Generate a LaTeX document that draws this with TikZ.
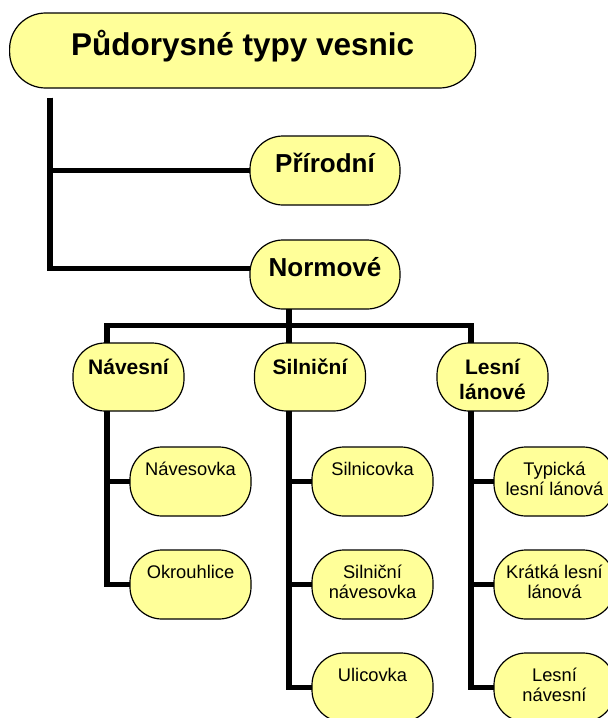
\documentclass[tikz,border=0pt]{standalone}
\usepackage{fontspec}
\setmainfont{Liberation Sans}
\usetikzlibrary{positioning}
\definecolor{boxyellow}{HTML}{FFFF99}

\begin{document}
\begin{tikzpicture}[x=1pt, y=-1pt,
    conn/.style={line width=5.5pt},
    box/.style={draw, line width=1.2pt, fill=boxyellow, inner sep=0pt, outer sep=0pt},
    titlebox/.style={box, rounded corners=36pt,
      font=\bfseries\fontsize{31.5}{36}\selectfont,
      execute at begin node={\begin{minipage}[c][75pt][t]{466pt}\centering\rule{0pt}{42pt}},
      execute at end node={\end{minipage}}},
    mainbox/.style={box, rounded corners=33pt,
      font=\bfseries\fontsize{26}{30}\selectfont,
      execute at begin node={\begin{minipage}[c][69pt][t]{150pt}\centering\rule{0pt}{36.7pt}},
      execute at end node={\end{minipage}}},
    groupbox/.style={box, rounded corners=32pt,
      font=\bfseries\fontsize{21}{25}\selectfont,
      execute at begin node={\begin{minipage}[c][68pt][t]{111pt}\centering\rule{0pt}{31pt}},
      execute at end node={\end{minipage}}},
    typebox/.style={box, rounded corners=32pt,
      font=\fontsize{18.3}{20.7}\selectfont,
      execute at begin node={\begin{minipage}[c][69pt][t]{121pt}\centering\rule{0pt}{28pt}},
      execute at end node={\end{minipage}}}
  ]
  \useasboundingbox (0,0) rectangle (608,718);

  % nodes
  \node[titlebox] (title) at (242.6,50.5) {Půdorysné typy vesnic};
  \node[mainbox] (pri) at (325,170.5) {Přírodní};
  \node[mainbox] (nor) at (325,274.5) {Normové};

  \node[groupbox] (nav) at (128.5,377) {Návesní};
  \node[groupbox] (sil) at (310,377) {Silniční};
  \node[groupbox] (les) at (492.5,377) {Lesní\\lánové};

  \node[typebox] (nvk) at (190.5,481.5) {Návesovka};
  \node[typebox, below=34pt of nvk] (okr) {Okrouhlice};
  \node[typebox] (slc) at (372.5,481.5) {Silnicovka};
  \node[typebox, below=34pt of slc] (snv) {Silniční\\návesovka};
  \node[typebox, below=34pt of snv] (ulc) {Ulicovka};
  \node[typebox] (tll) at (554.5,481.5) {Typická\\lesní lánová};
  \node[typebox, below=34pt of tll] (kll) {Krátká lesní\\lánová};
  \node[typebox, below=34pt of kll] (lnv) {Lesní\\návesní};

  % connectors
  \coordinate (trunk) at (50,97.7);
  \coordinate (bus) at (0,325.7);
  \coordinate (nav-spine) at ([xshift=-21.5pt]nav.north);
  \coordinate (sil-spine) at ([xshift=-21pt]sil.north);
  \coordinate (les-spine) at ([xshift=-21.5pt]les.north);

  \draw[conn] (trunk) |- (pri.west);
  \draw[conn] (trunk) |- ([yshift=6pt]nor.west);
  \draw[conn] (nor.south -| sil-spine) -- (sil-spine);
  \draw[conn] (nav-spine) |- (bus -| sil-spine) -| (les-spine);

  \foreach \grp/\leaf in {nav/nvk,nav/okr,sil/slc,sil/snv,sil/ulc,les/tll,les/kll,les/lnv}{
    \draw[conn] (\grp.south -| \grp-spine) |- (\leaf.west);
  }
\end{tikzpicture}
\end{document}
